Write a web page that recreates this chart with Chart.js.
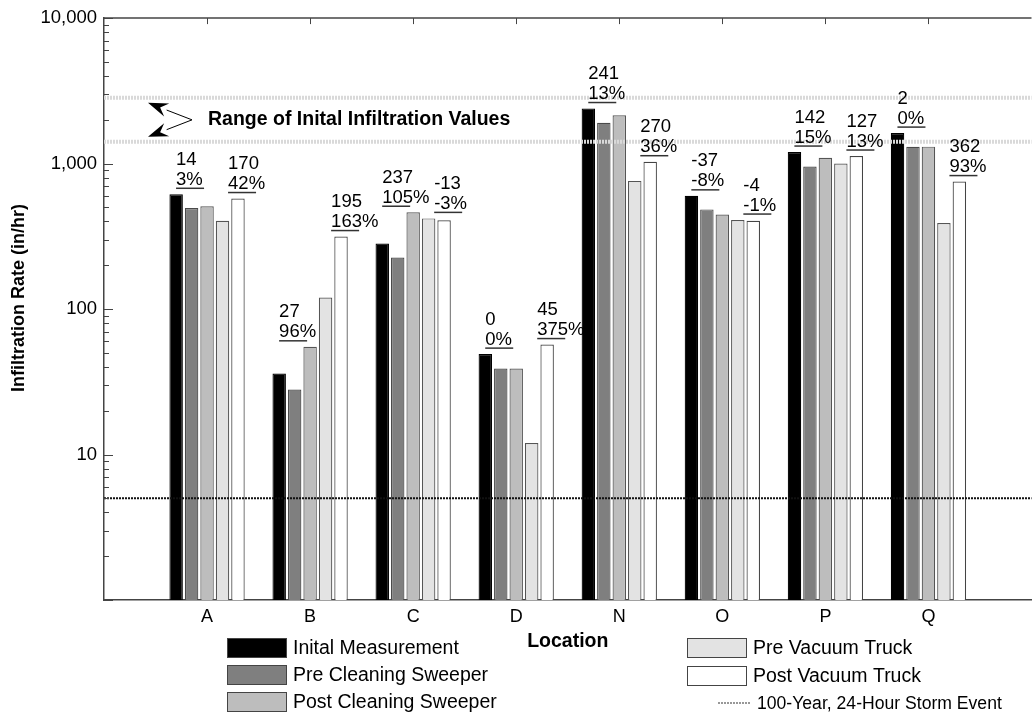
<!DOCTYPE html>
<html><head><meta charset="utf-8">
<script src="https://cdn.jsdelivr.net/npm/chart.js@4.4.1/dist/chart.umd.min.js"></script>
<style>html,body{margin:0;padding:0;overflow:hidden;background:#fff;width:1032px;height:723px}canvas{display:block}</style>
</head><body>
<canvas id="c" width="1040" height="723"></canvas>
<script>
// ---- data ----
const categories = ['A','B','C','D','N','O','P','Q'];
const seriesNames = ['Inital Measurement','Pre Cleaning Sweeper','Post Cleaning Sweeper','Pre Vacuum Truck','Post Vacuum Truck'];
const initialMeasurement = [615, 36, 282, 49, 2390, 600, 1200, 1620];
const preSweeper        = [495, 28, 226, 39, 1910, 484, 955, 1305];
const postSweeper       = [509, 55, 463, 39, 2151, 447, 1097, 1307];
const preVacuum         = [405, 120, 420, 12, 760, 409, 1000, 390];
const postVacuum        = [575, 315, 407, 57, 1030, 405, 1127, 752];
const sweeperChange = [14, 27, 237, 0, 241, -37, 142, 2];
const sweeperPct    = [3, 96, 105, 0, 13, -8, 15, 0];
const vacuumChange  = [170, 195, -13, 45, 270, -4, 127, 362];
const vacuumPct     = [42, 163, -3, 375, 36, -1, 13, 93];
const initialRange = [1410, 2830];
const stormEvent = 5;
const stormName = '100-Year, 24-Hour Storm Event';
const rangeText = 'Range of Inital Infiltration Values';
const yTickLabels = [10, 100, 1000, 10000];
const yTitle = 'Infiltration Rate (in/hr)';
const xTitle = 'Location';

// ---- styling ----
const FONT = '"Liberation Sans", Arial, Helvetica, sans-serif';
Chart.defaults.font.family = FONT;
Chart.defaults.color = '#000';
const fills = ['#000000','#7f7f7f','#bdbdbd','#e3e3e3','#ffffff'];
const strokes = ['#000000','#4a4a4a','#555555','#555555','#444444'];

const labels = ['', ...categories, ' '];
const pad = a => [null, ...a, null];
const series = [initialMeasurement, preSweeper, postSweeper, preVacuum, postVacuum];

const barSets = series.map((s, k) => ({
  type: 'bar', label: seriesNames[k], data: pad(s),
  backgroundColor: fills[k], borderColor: strokes[k], borderWidth: 1.2, order: 2,
  categoryPercentage: 0.75, barPercentage: 0.87
}));
const hline = (v, color, w, dash) => ({
  type: 'line', data: [{x: labels[0], y: v}, {x: labels[labels.length-1], y: v}],
  borderColor: color, borderWidth: w, borderDash: dash, pointRadius: 0, order: 0, fill: false
});
const lineSets = [
  hline(initialRange[0], '#d9d9d9', 4, [2, 1]),
  hline(initialRange[1], '#d9d9d9', 4, [2, 1]),
  hline(stormEvent, '#111111', 2, [2, 1])
];

const decor = {
  id: 'decor',
  afterDatasetsDraw(chart) {
    const ctx = chart.ctx, a = chart.chartArea;
    const xs = chart.scales.x, ys = chart.scales.y;
    ctx.save();
    // top border
    ctx.strokeStyle = '#444'; ctx.lineWidth = 1.5;
    ctx.beginPath(); ctx.moveTo(a.left, a.top); ctx.lineTo(a.right, a.top); ctx.stroke();
    // top ticks
    ctx.lineWidth = 1;
    categories.forEach((c, i) => {
      const x = Math.round(xs.getPixelForValue(i + 1)) + 0.5;
      ctx.beginPath(); ctx.moveTo(x, a.top); ctx.lineTo(x, a.top + 6); ctx.stroke();
    });
    // left ticks (inward)
    ys.ticks.forEach(t => {
      const y = Math.round(ys.getPixelForValue(t.value)) + 0.5;
      const major = yTickLabels.includes(Math.round(t.value)) || Math.round(t.value) === 1;
      ctx.beginPath(); ctx.moveTo(a.left, y); ctx.lineTo(a.left + (major ? 9 : 5), y); ctx.stroke();
    });
    // range arrows
    const yHi = ys.getPixelForValue(initialRange[1]) + 5;
    const yLo = ys.getPixelForValue(initialRange[0]) - 5;
    const ym = (yHi + yLo) / 2;
    const tipX = a.left + 44, vx = a.left + 88;
    ctx.fillStyle = '#000'; ctx.strokeStyle = '#000'; ctx.lineWidth = 1;
    [yHi, yLo].forEach(ty => {
      const ang = Math.atan2(ty - ym, tipX - vx);
      const L = 20, W = 7;
      const bx = tipX - L * Math.cos(ang), by = ty - L * Math.sin(ang);
      ctx.beginPath(); ctx.moveTo(vx, ym); ctx.lineTo(bx, by); ctx.stroke();
      ctx.beginPath();
      ctx.moveTo(tipX, ty);
      ctx.lineTo(bx + W * Math.sin(ang), by - W * Math.cos(ang));
      ctx.lineTo(tipX - (L - 7) * Math.cos(ang), ty - (L - 7) * Math.sin(ang));
      ctx.lineTo(bx - W * Math.sin(ang), by + W * Math.cos(ang));
      ctx.closePath(); ctx.fill();
    });
    ctx.font = 'bold 19.5px ' + FONT; ctx.textAlign = 'left'; ctx.textBaseline = 'middle';
    ctx.fillText(rangeText, a.left + 104, ym);
    // change annotations
    const drawLabel = (x, uy, v, p) => {
      ctx.fillStyle = '#000'; ctx.font = '18.5px ' + FONT; ctx.textAlign = 'left'; ctx.textBaseline = 'alphabetic';
      ctx.fillText(String(v), x, uy - 23.5);
      ctx.fillText(p + '%', x, uy - 3.5);
      ctx.strokeStyle = '#333'; ctx.lineWidth = 1.5;
      ctx.beginPath(); ctx.moveTo(x, uy); ctx.lineTo(x + 28, uy); ctx.stroke();
    };
    categories.forEach((c, i) => {
      const cx = xs.getPixelForValue(i + 1);
      const t1 = ys.getPixelForValue(Math.max(initialMeasurement[i], preSweeper[i], postSweeper[i]));
      drawLabel(cx - 31, t1 - 6, sweeperChange[i], sweeperPct[i]);
      const t2 = ys.getPixelForValue(Math.max(preVacuum[i], postVacuum[i]));
      drawLabel(cx + 21, t2 - 6, vacuumChange[i], vacuumPct[i]);
    });
    ctx.restore();
  },
  afterDraw(chart) {
    const ctx = chart.ctx;
    ctx.save();
    // y title
    ctx.font = 'bold 18px ' + FONT; ctx.fillStyle = '#000';
    ctx.textAlign = 'center'; ctx.textBaseline = 'middle';
    ctx.translate(19, 298); ctx.rotate(-Math.PI / 2); ctx.fillText(yTitle, 0, 0);
    ctx.restore();
    // legend
    ctx.save();
    ctx.font = '19.5px ' + FONT; ctx.textBaseline = 'middle'; ctx.textAlign = 'left';
    const pos = [[227, 648], [227, 675], [227, 702], [687, 648], [687, 676]];
    chart.data.datasets.forEach((ds, k) => {
      if (ds.type !== 'bar') return;
      const [bx, by] = pos[k];
      ctx.fillStyle = ds.backgroundColor; ctx.fillRect(bx, by - 10, 60, 20);
      ctx.strokeStyle = '#444'; ctx.lineWidth = 1; ctx.strokeRect(bx + 0.5, by - 9.5, 59, 19);
      ctx.fillStyle = '#000'; ctx.fillText(ds.label, bx + 66, by + 1);
    });
    ctx.strokeStyle = '#333'; ctx.lineWidth = 1.2; ctx.setLineDash([2, 1]);
    ctx.beginPath(); ctx.moveTo(718, 703); ctx.lineTo(751, 703); ctx.stroke();
    ctx.setLineDash([]);
    ctx.font = '17.6px ' + FONT;
    ctx.fillText(stormName, 757, 704);
    ctx.restore();
  }
};

new Chart(document.getElementById('c'), {
  type: 'bar',
  data: { labels, datasets: [...barSets, ...lineSets] },
  options: {
    responsive: false, animation: false, devicePixelRatio: 1,
    layout: { padding: { top: 15, left: 0, right: 0, bottom: 0 } },
    plugins: { legend: { display: false }, tooltip: { enabled: false } },
    scales: {
      x: {
        type: 'category', offset: false,
        grid: { display: false, drawTicks: false, offset: false },
        border: { display: true, color: '#444', width: 1.5 },
        ticks: { autoSkip: false, maxRotation: 0, padding: 6, color: '#000', font: { size: 18 } },
        title: { display: true, text: xTitle, color: '#000', font: { size: 19.5, weight: 'bold' }, padding: { top: 0, bottom: 70 } },
        afterFit: s => { s.height = 123; }
      },
      y: {
        type: 'logarithmic', min: 1, max: 10000,
        afterBuildTicks: s => {
          const t = [];
          for (let e = 0; e < 4; e++) for (let m = 1; m < 10; m++) t.push({ value: m * Math.pow(10, e) });
          t.push({ value: 10000 });
          s.ticks = t;
        },
        ticks: {
          autoSkip: false, padding: 7, color: '#000', font: { size: 18.5 },
          callback: v => yTickLabels.includes(Math.round(v)) ? Math.round(v).toLocaleString('en-US') : ''
        },
        grid: { display: false, drawTicks: false },
        border: { display: true, color: '#444', width: 1.5 },
        afterFit: s => { s.width = 104; }
      }
    }
  },
  plugins: [decor]
});
</script>
</body></html>
